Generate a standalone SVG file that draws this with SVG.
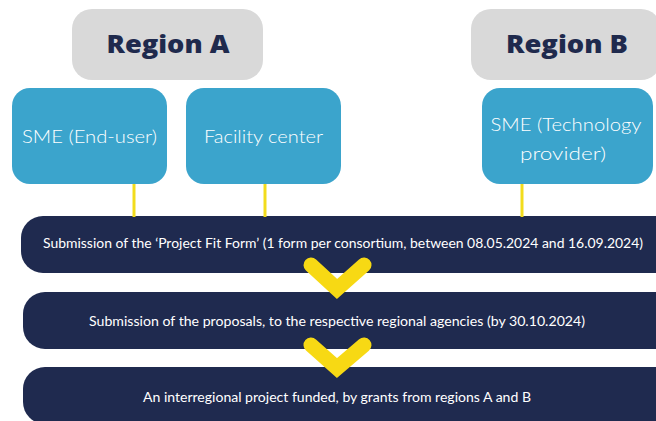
<svg xmlns="http://www.w3.org/2000/svg" width="656" height="421" viewBox="0 0 656 421">
<style>
.region{fill:#d9d9d9}
.rtxt{font-family:"Open Sans","Liberation Sans",sans-serif;font-weight:800;font-size:25px;fill:#1f2a4d;text-anchor:middle}
.actor{fill:#3ba4cc}
.atxt{font-family:Lato,"Open Sans","Liberation Sans",sans-serif;font-weight:300;font-size:17px;fill:#ffffff;text-anchor:middle}
.bar{fill:#1f2a4f}
.btxt{font-family:Lato,"Open Sans","Liberation Sans",sans-serif;font-weight:400;font-size:12.5px;fill:#ffffff;text-anchor:middle}
.link{stroke:#f2dc1c;stroke-width:3;fill:none}
.check{stroke:#f7d914;stroke-width:15;stroke-linecap:round;stroke-linejoin:miter;fill:none}
</style>
<rect width="656" height="421" fill="#ffffff"/>
<g id="regionA"><rect class="region" x="72" y="9" width="191" height="71" rx="20"/><text class="rtxt" x="168" y="53" textLength="123" lengthAdjust="spacingAndGlyphs">Region A</text></g>
<g id="regionB"><rect class="region" x="471" y="9" width="190" height="71" rx="20"/><text class="rtxt" x="567" y="53" textLength="122" lengthAdjust="spacingAndGlyphs">Region B</text></g>
<g id="sme-end"><rect class="actor" x="12" y="88" width="155" height="96" rx="18"/><text class="atxt" x="89.5" y="143" textLength="135" lengthAdjust="spacingAndGlyphs">SME (End-user)</text></g>
<g id="facility"><rect class="actor" x="186" y="88" width="155" height="96" rx="18"/><text class="atxt" x="263.5" y="143" textLength="119" lengthAdjust="spacingAndGlyphs">Facility center</text></g>
<g id="sme-tech"><rect class="actor" x="482" y="88" width="171" height="96" rx="18"/><text class="atxt" x="566" y="131" textLength="151" lengthAdjust="spacingAndGlyphs">SME (Technology</text><text class="atxt" x="563" y="160" textLength="86" lengthAdjust="spacingAndGlyphs">provider)</text></g>
<g id="step1"><rect class="bar" x="21" y="216" width="660" height="57" rx="22"/><text class="btxt" x="343" y="248" textLength="600" lengthAdjust="spacingAndGlyphs">Submission of the ‘Project Fit Form’ (1 form per consortium, between 08.05.2024 and 16.09.2024)</text></g>
<g id="step2"><rect class="bar" x="23" y="292" width="660" height="57" rx="22"/><text class="btxt" x="337" y="326" textLength="496" lengthAdjust="spacingAndGlyphs">Submission of the proposals, to the respective regional agencies (by 30.10.2024)</text></g>
<g id="step3"><rect class="bar" x="23" y="367" width="660" height="57" rx="22"/><text class="btxt" x="337" y="402" textLength="388" lengthAdjust="spacingAndGlyphs">An interregional project funded, by grants from regions A and B</text></g>
<g id="connectors">
<line class="link" x1="134" y1="184" x2="134" y2="217"/>
<line class="link" x1="265" y1="184" x2="265" y2="217"/>
<line class="link" x1="522" y1="184" x2="522" y2="217"/>
<polyline class="check" points="311,265 337,289 364,265"/>
<polyline class="check" points="311,345 337,368 364,345"/>
</g>
</svg>
